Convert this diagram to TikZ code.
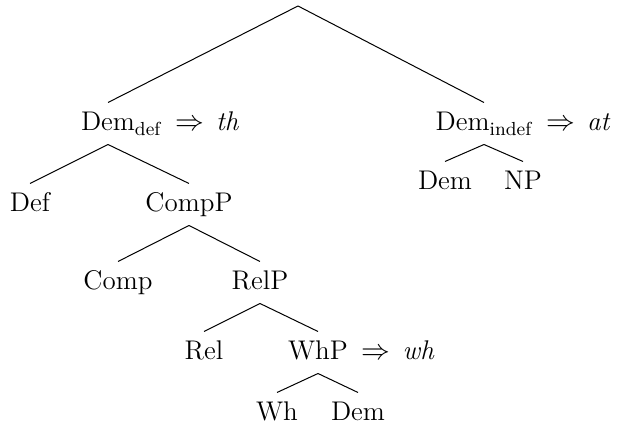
\documentclass[tikz,border=0pt]{standalone}
\usepackage{fontspec}
\newcommand{\spellout}[1]{\hspace{7pt}$\Rightarrow$\hspace{6pt}\textit{#1}}
\begin{document}
\begin{tikzpicture}[x=0.5pt, y=-0.5pt, line width=0.5pt, every node/.append style={anchor=base, inner sep=0pt,
    inner ysep=5pt, text height=9pt, text depth=1.5pt, font=\fontsize{13.5}{16}\selectfont}]
  \useasboundingbox (0,0) rectangle (617,427);
  \coordinate (top) at (298,6);
  \node (demdef) at (108,131) {Dem\rlap{$_{\mathrm{def}}$\spellout{th}}};
  \node (demindef) at (484,131) {Dem$_{\mathrm{indef}}$\rlap{\spellout{at}}};
  \node (def) at (30,212) {Def};        \node (compp) at (189,212) {CompP};
  \node (demb) at (445,190) {Dem};      \node (np) at (523,190) {NP};
  \node (comp) at (118,290) {Comp};     \node (relp) at (260,290) {RelP};
  \node (rel) at (204,360) {Rel};       \node (whp) at (318,360) {WhP\rlap{\spellout{wh}}};
  \node (wh) at (277,421) {Wh};         \node (demc) at (358,421) {Dem};
  \draw (top) -- (demdef.north);        \draw (top) -- (demindef.north);
  \draw (demdef.south) -- (def.north);  \draw (demdef.south) -- (compp.north);
  \draw (demindef.south) -- (demb.north); \draw (demindef.south) -- (np.north);
  \draw (compp.south) -- (comp.north);  \draw (compp.south) -- (relp.north);
  \draw (relp.south) -- (rel.north);    \draw (relp.south) -- (whp.north);
  \draw (whp.south) -- (wh.north);      \draw (whp.south) -- (demc.north);
\end{tikzpicture}
\end{document}
